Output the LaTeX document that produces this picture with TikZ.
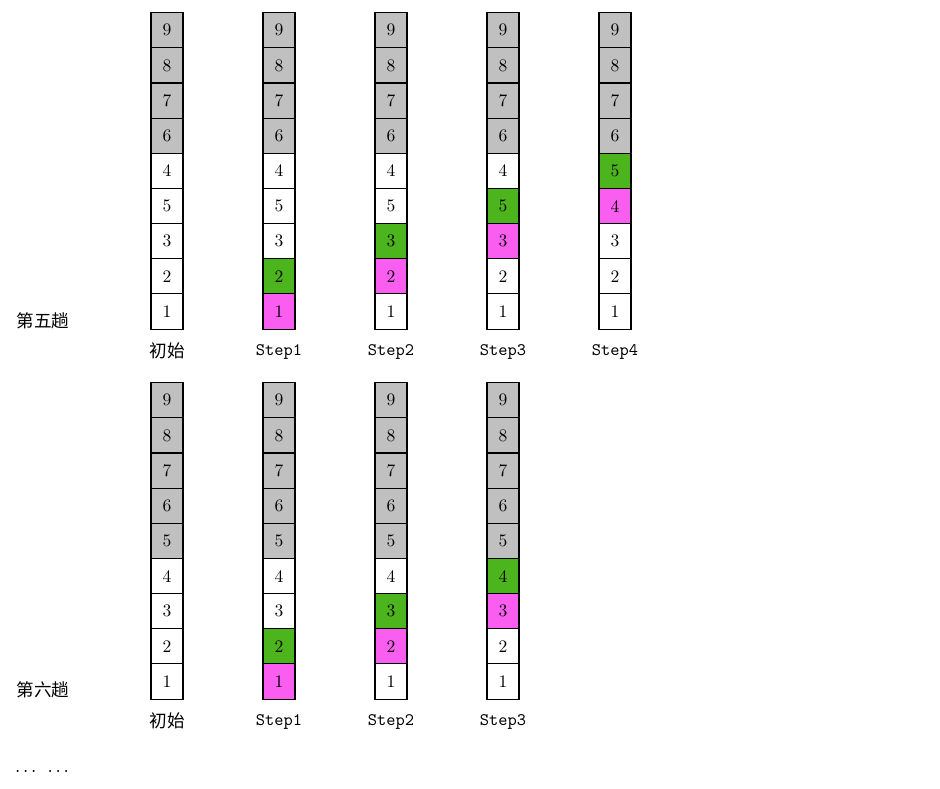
\documentclass[tikz,border=0pt]{standalone}
\usepackage{fontspec}
\newfontfamily\cjk{Noto Sans CJK SC}
\usetikzlibrary{positioning}

\definecolor{sortgray}{RGB}{192,192,192}
\definecolor{curgreen}{RGB}{76,181,30}
\definecolor{cmppink}{RGB}{250,94,240}

\tikzset{
  cell/.style={draw, line width=0.6pt, minimum width=0.64cm, minimum height=0.702cm, inner sep=0pt, font=\normalsize},
  plain/.style={fill=white},
  sorted/.style={fill=sortgray},
  cur/.style={fill=curgreen},
  cmp/.style={fill=cmppink},
  steplabel/.style={font=\ttfamily},
  passlabel/.style={font=\cjk},
}

% one column of cells, bottom to top
\newcommand{\stackcol}[4]{%
  \foreach \v/\s [count=\k] in {#4}
    \node[cell,\s] (#1-\k) at (#2, {#3-(\k-1)*35.15}) {\v};
}

\begin{document}
\begin{tikzpicture}[x=0.02cm, y=-0.02cm]
    \useasboundingbox (0,0) rectangle (940,788);

    % fifth pass
    \stackcol{a0}{167}{311.5}{1/plain,2/plain,3/plain,5/plain,4/plain,6/sorted,7/sorted,8/sorted,9/sorted}
    \stackcol{a1}{279}{311.5}{1/cmp,2/cur,3/plain,5/plain,4/plain,6/sorted,7/sorted,8/sorted,9/sorted}
    \stackcol{a2}{391}{311.5}{1/plain,2/cmp,3/cur,5/plain,4/plain,6/sorted,7/sorted,8/sorted,9/sorted}
    \stackcol{a3}{503}{311.5}{1/plain,2/plain,3/cmp,5/cur,4/plain,6/sorted,7/sorted,8/sorted,9/sorted}
    \stackcol{a4}{615}{311.5}{1/plain,2/plain,3/plain,4/cmp,5/cur,6/sorted,7/sorted,8/sorted,9/sorted}

    \node[passlabel] (pass5) at (43,321) {第五趟};
    \node[passlabel, below=4pt of a0-1] (a0-lab) {初始};
    \node[steplabel, below=5pt of a1-1] (a1-lab) {Step1};
    \node[steplabel, below=5pt of a2-1] (a2-lab) {Step2};
    \node[steplabel, below=5pt of a3-1] (a3-lab) {Step3};
    \node[steplabel, below=5pt of a4-1] (a4-lab) {Step4};

    % sixth pass
    \stackcol{b0}{167}{681.5}{1/plain,2/plain,3/plain,4/plain,5/sorted,6/sorted,7/sorted,8/sorted,9/sorted}
    \stackcol{b1}{279}{681.5}{1/cmp,2/cur,3/plain,4/plain,5/sorted,6/sorted,7/sorted,8/sorted,9/sorted}
    \stackcol{b2}{391}{681.5}{1/plain,2/cmp,3/cur,4/plain,5/sorted,6/sorted,7/sorted,8/sorted,9/sorted}
    \stackcol{b3}{503}{681.5}{1/plain,2/plain,3/cmp,4/cur,5/sorted,6/sorted,7/sorted,8/sorted,9/sorted}

    \node[passlabel] (pass6) at (43,690) {第六趟};
    \node[passlabel, below=4pt of b0-1] (b0-lab) {初始};
    \node[steplabel, below=5pt of b1-1] (b1-lab) {Step1};
    \node[steplabel, below=5pt of b2-1] (b2-lab) {Step2};
    \node[steplabel, below=5pt of b3-1] (b3-lab) {Step3};

    \node[font=\large] (more) at (42,771) {.\kern1.3pt.\kern1.3pt.\hspace{6pt}.\kern1.3pt.\kern1.3pt.};
\end{tikzpicture}
\end{document}
